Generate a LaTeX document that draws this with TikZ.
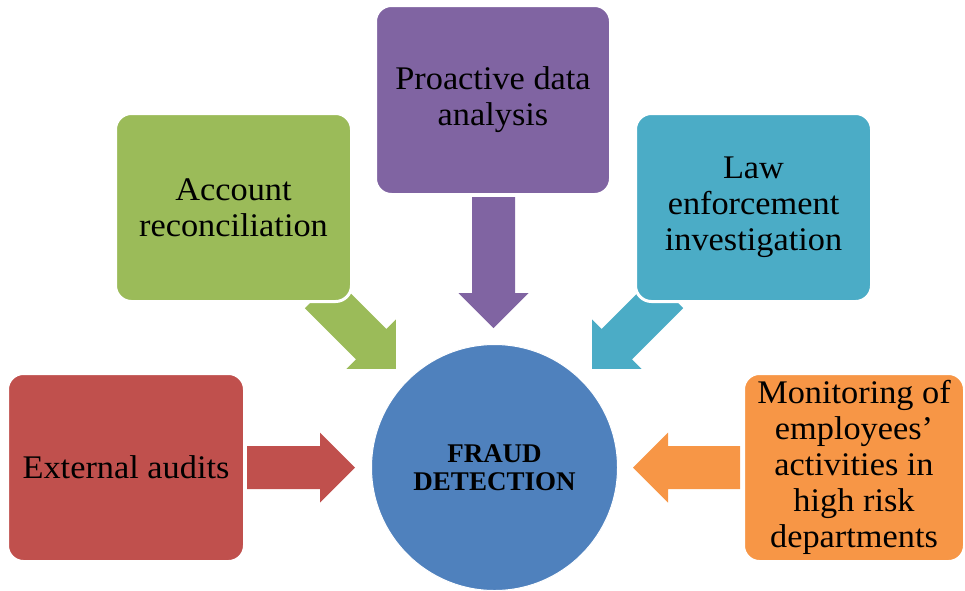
\documentclass[tikz,border=0pt]{standalone}
\usepackage{fontspec}
\setmainfont[FakeStretch=1.04]{Liberation Serif}
\newfontfamily\fraudfont{Liberation Serif}
\usetikzlibrary{calc}
\definecolor{cred}{HTML}{C0504D}
\definecolor{cgreen}{HTML}{9BBB59}
\definecolor{cpurple}{HTML}{8064A2}
\definecolor{cteal}{HTML}{4BACC6}
\definecolor{corange}{HTML}{F79646}
\definecolor{cblue}{HTML}{4F81BD}
\tikzset{
  box/.style={rounded corners=16pt, draw=white, line width=3pt, inner sep=0pt,
    align=center, font=\fontsize{33}{36}\selectfont, text=black},
  hub/.style={circle, fill=cblue, draw=white, line width=1pt, minimum size=246pt,
    inner sep=0pt, align=center, font=\fraudfont\bfseries\fontsize{27}{28}\selectfont},
}
\newcommand\blockarrow[3]{%
  \fill[#1] let \p1=(#2), \p2=(#3), \n1={atan2(\y2-\y1,\x2-\x1)},
    \n2={veclen(\x2-\x1,\y2-\y1)} in
    [shift={(\p1)}, rotate=\n1]
    (0,-21.5) -- ({\n2-35},-21.5) -- ({\n2-35},-35) -- ({\n2},0)
    -- ({\n2-35},35) -- ({\n2-35},21.5) -- (0,21.5) -- cycle;}
\begin{document}
\begin{tikzpicture}[x=1pt,y=-1pt]
\useasboundingbox (0,0) rectangle (965,590);
% arrow end points
\coordinate (rt) at (247,467.5);  \coordinate (rh) at (355,467.5);
\coordinate (ot) at (740,467.5);  \coordinate (oh) at (633,467.5);
\coordinate (pt) at (493.5,197);  \coordinate (ph) at (493.5,328);
\coordinate (gt) at (320,293);    \coordinate (gh) at (396,369);
\coordinate (tt) at (668,293);    \coordinate (th) at (592,369);
\blockarrow{cred}{rt}{rh}
\blockarrow{corange}{ot}{oh}
\blockarrow{cpurple}{pt}{ph}
\blockarrow{cgreen}{gt}{gh}
\blockarrow{cteal}{tt}{th}
% boxes
\node[box, fill=cred, minimum width=237pt, minimum height=188pt] (ext) at (126,467.5) {External audits};
\node[box, fill=cgreen, minimum width=236pt, minimum height=188pt] (acc) at (233.5,207.5) {Account\\reconciliation};
\node[box, fill=cpurple, minimum width=235pt, minimum height=189pt] (pro) at (493,100) {Proactive data\\analysis};
\node[box, fill=cteal, minimum width=236pt, minimum height=188pt] (law) at (753.5,207.5) {Law\\enforcement\\investigation};
\node[box, fill=corange, minimum width=221pt, minimum height=188pt] (mon) at (854,467.5) {Monitoring of\\employees’\\activities in\\high risk\\departments};
\node[hub] (fd) at (494.5,467.5) {FRAUD\\DETECTION};
\end{tikzpicture}
\end{document}
